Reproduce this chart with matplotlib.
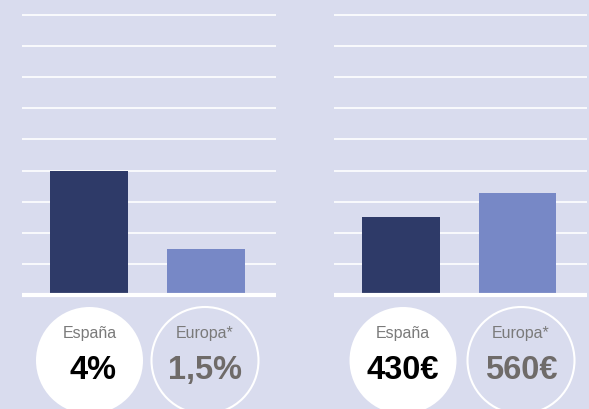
import matplotlib
matplotlib.use('Agg')
import matplotlib.pyplot as plt
from matplotlib.patches import Circle

plt.rcParams['font.family'] = ['Liberation Sans', 'DejaVu Sans']

# data
regions = ['España', 'Europa*']
growth_pct = [4, 1.5]
price_eur = [430, 560]

bg = '#D9DCEE'
bar_colors = ['#2E3A68', '#7788C6']
value_colors = ['#000000', '#6F6B69']
label_color = '#7A7A7A'

W, H = 589, 410
fig = plt.figure(figsize=(W / 100, H / 100), dpi=100)
fig.patch.set_facecolor(bg)


def panel(x0, x1, values, step):
    base = 296.3
    ax = fig.add_axes([x0 / W, (H - base) / H, (x1 - x0) / W, base / H])
    ax.set_facecolor(bg)
    ax.bar(range(len(values)), values, width=0.665, color=bar_colors, zorder=3)
    ax.set_xlim(-0.571, 1.594)
    ax.set_ylim(0, 9.5 * step)
    ax.set_yticks([step * k for k in range(1, 10)])
    ax.grid(axis='y', color='white', linewidth=1.2, zorder=0)
    ax.axhline(0, color='white', linewidth=3.0, zorder=4, clip_on=False,
               solid_capstyle='butt')
    ax.tick_params(left=False, bottom=False, labelleft=False, labelbottom=False)
    for s in ax.spines.values():
        s.set_visible(False)
    return ax


panel(22, 276, growth_pct, 1.0)
panel(334, 587, price_eur, 171.0)

# circles with labels below the bars
ov = fig.add_axes([0, 0, 1, 1], zorder=-1)
ov.set_xlim(0, W)
ov.set_ylim(H, 0)
ov.axis('off')

pct_txt = [f'{v:g}%'.replace('.', ',') for v in growth_pct]
eur_txt = [f'{v:g}€' for v in price_eur]
centers = [89.5, 205, 403, 521]
texts = pct_txt + eur_txt
cy, r = 361.5, 53.5
for i, (cx, t) in enumerate(zip(centers, texts)):
    k = i % 2
    if k == 0:
        ov.add_patch(Circle((cx, cy), r, facecolor='white', edgecolor='none'))
    else:
        ov.add_patch(Circle((cx, cy), r, facecolor='none', edgecolor='white', linewidth=1.5))
    ov.text(cx, 334, regions[k], ha='center', va='center', fontsize=11.5, color=label_color)
    ov.text(cx + (3 if i == 0 else 0), 371, t, ha='center', va='center', fontsize=23.5,
            fontweight='bold', color=value_colors[k])

fig.savefig('out.png', dpi=100, facecolor=bg)
